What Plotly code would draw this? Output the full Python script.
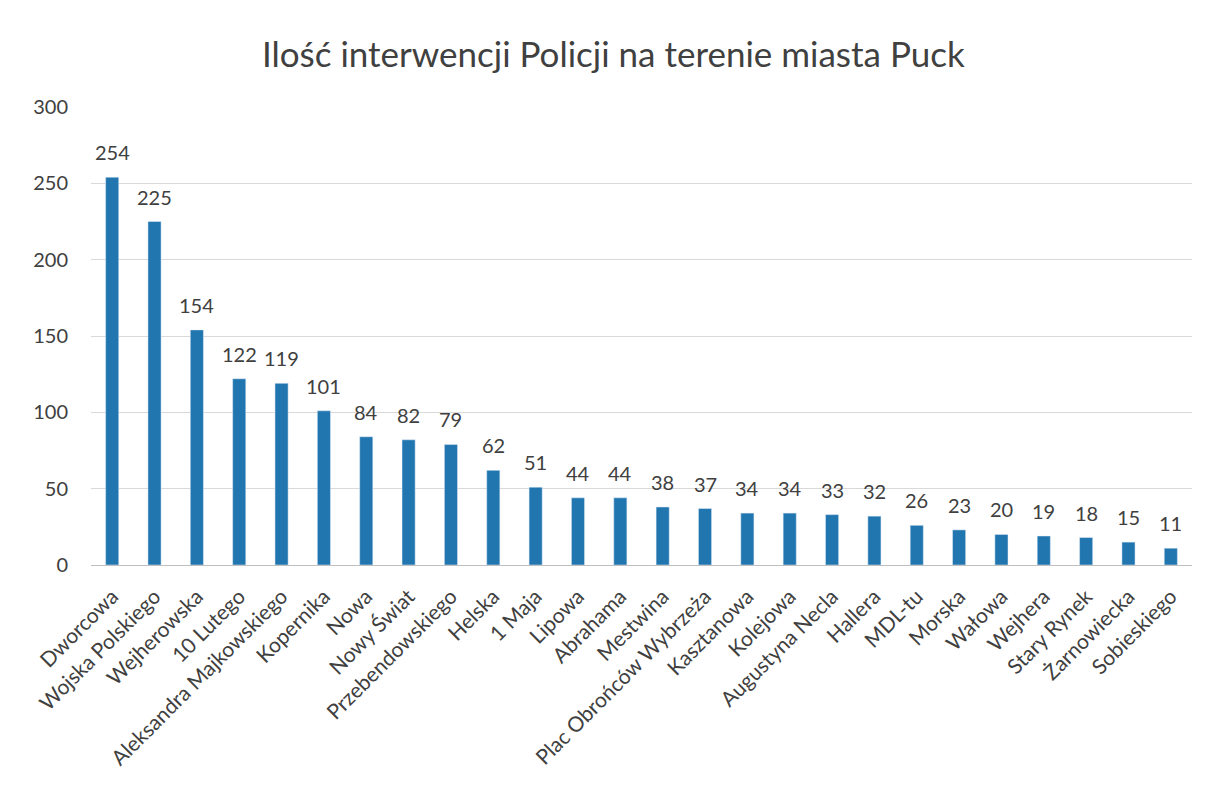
import plotly.graph_objects as go

categories = ["Dworcowa", "Wojska Polskiego", "Wejherowska", "10 Lutego",
              "Aleksandra Majkowskiego", "Kopernika", "Nowa", "Nowy Świat",
              "Przebendowskiego", "Helska", "1 Maja", "Lipowa", "Abrahama",
              "Mestwina", "Plac Obrońców Wybrzeża", "Kasztanowa", "Kolejowa",
              "Augustyna Necla", "Hallera", "MDL-tu", "Morska", "Wałowa",
              "Wejhera", "Stary Rynek", "Żarnowiecka", "Sobieskiego"]
values = [254, 225, 154, 122, 119, 101, 84, 82, 79, 62, 51, 44, 44,
          38, 37, 34, 34, 33, 32, 26, 23, 20, 19, 18, 15, 11]
y_ticks = [0, 50, 100, 150, 200, 250, 300]

font_family = "Lato, 'Open Sans', sans-serif"
text_color = "#404040"

fig = go.Figure(go.Bar(
    x=categories, y=values,
    marker_color="#2276b0",
    cliponaxis=False,
))

for c, v in zip(categories, values):
    fig.add_annotation(x=c, y=v, text=str(v), showarrow=False,
                       xref="x", yref="y", yanchor="middle", yshift=25,
                       font=dict(size=20, color=text_color, family=font_family))

fig.update_layout(
    width=1223, height=798,
    margin=dict(l=83, r=39, t=99, b=241),
    paper_bgcolor="white", plot_bgcolor="white",
    bargap=0.69,
    showlegend=False,
    title=dict(text="Ilość interwencji Policji na terenie miasta Puck",
               x=0.495, xanchor="center", y=0.941, yanchor="middle",
               xref="container", yref="container",
               font=dict(size=35, color=text_color, family=font_family)),
    font=dict(family=font_family, color=text_color),
)
fig.update_yaxes(range=[0, 300], tickvals=y_ticks, showgrid=True,
                 gridcolor="#d9d9d9", gridwidth=1, zeroline=False,
                 showline=False, ticks="outside", ticklen=18,
                 tickcolor="rgba(0,0,0,0)", automargin=False,
                 tickfont=dict(size=20, color=text_color, family=font_family))
fig.update_xaxes(tickangle=-45, showline=True, linecolor="#bfbfbf",
                 linewidth=1, ticks="outside", ticklen=10,
                 tickcolor="rgba(0,0,0,0)", automargin=False,
                 tickfont=dict(size=21, color=text_color, family=font_family))

fig.write_html("out.html")
